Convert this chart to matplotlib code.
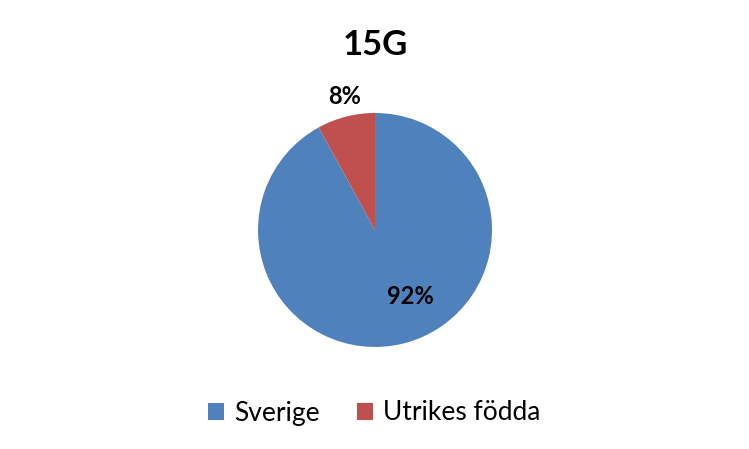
import matplotlib.pyplot as plt

title = "15G"
categories = ["Sverige", "Utrikes födda"]
values = [92, 8]
labels = ["92%", "8%"]
colors = ["#4F81BD", "#C0504D"]

plt.rcParams['font.family'] = ['Lato', 'DejaVu Sans']

fig = plt.figure(figsize=(7.49, 4.49), dpi=100)
fig.patch.set_facecolor('white')
ax = fig.add_axes([0.3445, 0.2272, 0.3124, 0.5212])
wedges, _ = ax.pie(values, colors=colors, startangle=90, counterclock=False,
                   radius=1.0, wedgeprops=dict(linewidth=0))
ax.set_xlim(-1, 1)
ax.set_ylim(-1, 1)
ax.set_aspect('equal')
ax.axis('off')

label_pos = [(0.30, -0.57), (-0.26, 1.14)]
for (x, y), lab in zip(label_pos, labels):
    ax.text(x, y, lab, ha='center', va='center', fontsize=17, fontweight='bold', color='black')

fig.text(0.5007, 1 - 45/449, title, ha='center', va='center', fontsize=25, fontweight='bold')

leg = fig.legend(wedges, categories, loc='center', bbox_to_anchor=(0.5, 1 - 413/449),
                 ncol=2, frameon=False, fontsize=19, handlelength=0.6, handleheight=0.6,
                 columnspacing=1.4, handletextpad=0.4)

fig.savefig("out.png", dpi=100)
